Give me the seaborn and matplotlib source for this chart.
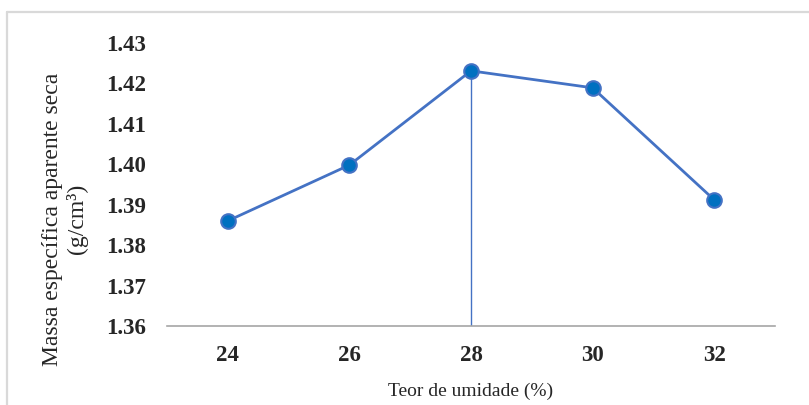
import matplotlib
matplotlib.use("Agg")
import matplotlib.pyplot as plt
from matplotlib.lines import Line2D
import seaborn as sns
import pandas as pd

# data
moisture = ["24", "26", "28", "30", "32"]
density = [1.386, 1.3998, 1.4231, 1.4189, 1.3912]
y_ticks = [1.36, 1.37, 1.38, 1.39, 1.40, 1.41, 1.42, 1.43]

df = pd.DataFrame({"moisture": moisture, "density": density})

sns.set_style("white")
plt.rcParams['font.family'] = ['Liberation Serif', 'DejaVu Serif']

fig = plt.figure(figsize=(8.09, 4.05), dpi=100)
ax = fig.add_axes([0.2064, 0.195, 0.7516, 0.699])

sns.lineplot(data=df, x="moisture", y="density", sort=False, ax=ax,
             color="#4472C4", linewidth=2.0, marker="o", markersize=10.5,
             markerfacecolor="#0070C0", markeredgecolor="#4472C4",
             markeredgewidth=1.5, zorder=3)

# drop line at the maximum
i_max = density.index(max(density))
ax.vlines(i_max, y_ticks[0], max(density), color="#4472C4", linewidth=1.0, zorder=2)

ax.set_xlim(-0.5, len(moisture) - 0.5)
ax.set_ylim(y_ticks[0], y_ticks[-1])
ax.set_yticks(y_ticks)
ax.set_yticklabels([f"{t:.2f}" for t in y_ticks])

for s in ["top", "right", "left"]:
    ax.spines[s].set_visible(False)
ax.spines["bottom"].set_color("#A6A6A6")
ax.spines["bottom"].set_linewidth(1.2)
ax.tick_params(axis="both", length=0, labelsize=16.5)
ax.tick_params(axis="x", pad=14)
ax.tick_params(axis="y", pad=15)
for lab in ax.get_xticklabels() + ax.get_yticklabels():
    lab.set_fontweight("bold")

ax.set_xlabel("Teor de umidade (%)", fontsize=14, labelpad=12)
ax.set_ylabel("Massa específica aparente seca\n(g/cm³)", fontsize=17)
ax.yaxis.set_label_coords(-0.13, 0.378)

# light frame around the chart area (top and left visible)
fig.add_artist(Line2D([7 / 809, 1.0], [1 - 11.5 / 405, 1 - 11.5 / 405],
                      transform=fig.transFigure, color="#D9D9D9", linewidth=1.6))
fig.add_artist(Line2D([7 / 809, 7 / 809], [0.0, 1 - 11.5 / 405],
                      transform=fig.transFigure, color="#D9D9D9", linewidth=1.6))

fig.savefig("out.png", dpi=100)
